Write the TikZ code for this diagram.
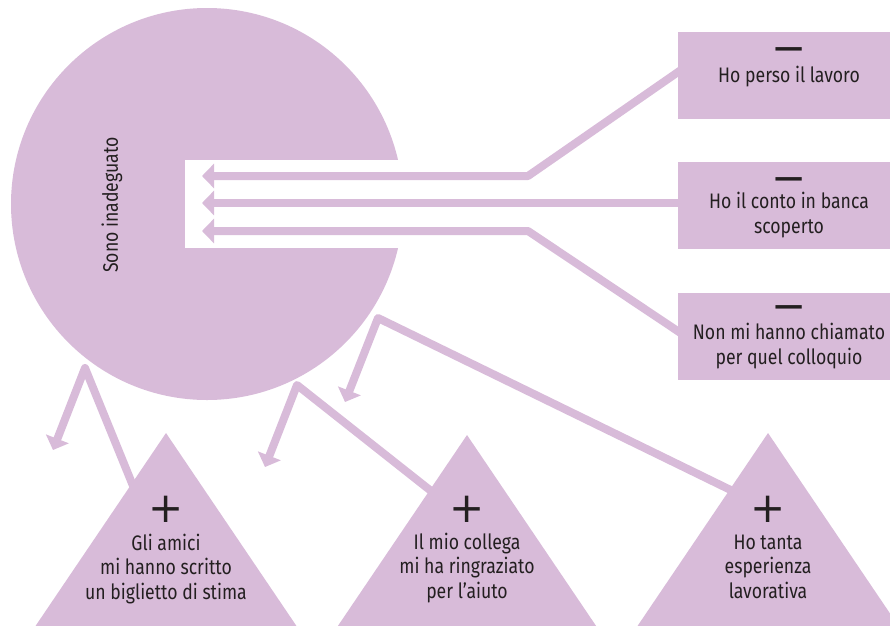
\documentclass[tikz,border=0pt]{standalone}
\usepackage{fontspec}
\setmainfont{Fira Sans}[FakeStretch=0.84]
\newfontfamily\signfont{DejaVu Sans}
\usetikzlibrary{arrows.meta}
\definecolor{lil}{RGB}{216,187,217}
\definecolor{ink}{RGB}{35,31,32}
\begin{document}
\begin{tikzpicture}[x=1pt,y=-1pt,
  conn/.style={draw=lil, line width=8pt, line join=round, -{Triangle[length=12pt,width=24pt]}},
  lbl/.style={font=\fontsize{21}{24.5}\selectfont, text=ink, align=center, inner sep=0pt, anchor=base},
  sign/.style={font=\signfont\fontsize{42}{42}\selectfont, text=ink, inner sep=0pt, anchor=base},
  minussign/.style={sign, text height=0.42em, text depth=-0.27em},
  plussign/.style={sign, text height=0.66em, text depth=-0.03em},
  negbox/.style={fill=lil, minimum width=222pt, minimum height=87pt, inner sep=0pt, draw=none},
  tri/.style={fill=lil}
]
\useasboundingbox (0,0) rectangle (890,625);
\clip (0,0) rectangle (890,625);

% central circle with notch
\node[circle, fill=lil, minimum size=392pt, inner sep=0pt] (self) at (207,204) {};
\fill[white] (185,160) rectangle (420,248);
\node[lbl, anchor=center, rotate=90] (selft) at (112,205) {Sono inadeguato};

% arrow tips
\coordinate (t1) at (202,176);
\coordinate (t2) at (202,203);
\coordinate (t3) at (202,231);
\coordinate (s1) at (53,450);
\coordinate (s2) at (265,467);
\coordinate (s3) at (345,402);

% boxes
\node[negbox] (b1) at (789,75.5) {};
\node[negbox] (b2) at (789,205.5) {};
\node[negbox] (b3) at (789,336.5) {};

% triangle apexes
\coordinate (a1) at (166,433);
\coordinate (a2) at (467,435);
\coordinate (a3) at (768,433);

% connectors (drawn under the shapes)
\draw[conn] ([shift={(6,-7.5)}]b1.west) -- (528,176) -- (t1);
\draw[conn] ([shift={(8,-2.5)}]b2.west) -- (t2);
\draw[conn] ([xshift=8pt]b3.west) -- (528,231) -- (t3);
\draw[conn] (140,503) -- (85,368) -- (s1);
\draw[conn] (445,502) -- (297,385) -- (s2);
\draw[conn] (745,497) -- (378,318) -- (s3);

% redraw boxes on top
\fill[lil] (b1.south west) rectangle (b1.north east);
\fill[lil] (b2.south west) rectangle (b2.north east);
\fill[lil] (b3.south west) rectangle (b3.north east);

% triangles
\fill[tri] (a1) -- ++(-142,210) -- ++(284,0) -- cycle;
\fill[tri] (a2) -- ++(-142,210) -- ++(284,0) -- cycle;
\fill[tri] (a3) -- ++(-142,210) -- ++(284,0) -- cycle;

% signs
\node[minussign] (m1) at (789,62.6) {−};
\node[minussign] (m2) at (789,192.6) {−};
\node[minussign] (m3) at (789,320.6) {−};
\node[plussign] (p1) at (166,522.6) {+};
\node[plussign] (p2) at (467,522.6) {+};
\node[plussign] (p3) at (768,522.6) {+};

% texts
\node[lbl] (b1t) at (789,82) {Ho perso il lavoro};
\node[lbl] (b2t) at (789,233) {Ho il conto in banca\\scoperto};
\node[lbl] (b3t) at (789,364) {Non mi hanno chiamato\\per quel colloquio};
\node[lbl] (tr1) at (166,599) {Gli amici\\mi hanno scritto\\un biglietto di stima};
\node[lbl] (tr2) at (467,598) {Il mio collega\\mi ha ringraziato\\per l’aiuto};
\node[lbl] (tr3) at (768,598) {Ho tanta\\esperienza\\lavorativa};
\end{tikzpicture}
\end{document}
